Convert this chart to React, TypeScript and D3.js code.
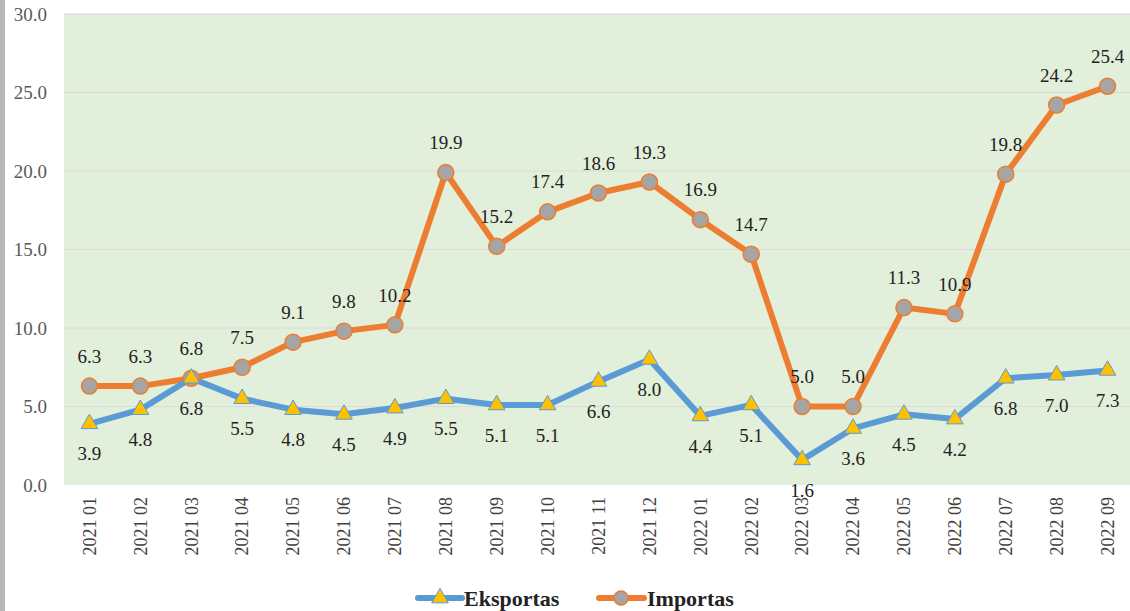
import React from "react";
import * as d3 from "d3";

const categories = ["2021 01","2021 02","2021 03","2021 04","2021 05","2021 06","2021 07","2021 08","2021 09","2021 10","2021 11","2021 12","2022 01","2022 02","2022 03","2022 04","2022 05","2022 06","2022 07","2022 08","2022 09"];
const eksportas = [3.9,4.8,6.8,5.5,4.8,4.5,4.9,5.5,5.1,5.1,6.6,8.0,4.4,5.1,1.6,3.6,4.5,4.2,6.8,7.0,7.3];
const importas = [6.3,6.3,6.8,7.5,9.1,9.8,10.2,19.9,15.2,17.4,18.6,19.3,16.9,14.7,5.0,5.0,11.3,10.9,19.8,24.2,25.4];
const yTicks = [0,5,10,15,20,25,30];

const W = 1130, H = 611;
const left = 64, right = 1133, top = 14, bottom = 485;
const FF = "Liberation Serif";

export default function App() {
  const x = d3.scaleBand<string>().domain(categories).range([left, right]);
  const y = d3.scaleLinear().domain([0, 30]).range([bottom, top]);
  const cx = (c: string) => (x(c) as number) + x.bandwidth() / 2;
  const line = d3.line<number>().x((_, i) => cx(categories[i])).y(d => y(d));
  const tri = d3.symbol().type(d3.symbolTriangle).size(120)() as string;

  return (
    <svg width={W} height={H} fontFamily={FF} style={{ position: "absolute", left: 0, top: 0, background: "#fff" }}>
      <rect x={0} y={0} width={5} height={H} fill="#b8b8b8" />
      <rect x={left} y={top} width={W - left} height={bottom - top} fill="#E2EFDA" />
      {yTicks.map(t => (
        <g key={t}>
          {t > 0 && <line x1={left} x2={W} y1={y(t)} y2={y(t)} stroke="#dadada" strokeWidth={1} />}
          <text x={47} y={y(t)} dy="0.35em" textAnchor="end" fontFamily={FF} fontSize={19} fill="#595959">{t.toFixed(1)}</text>
        </g>
      ))}
      {categories.map(c => (
        <text key={c} transform={`translate(${cx(c)},${bottom + 12}) rotate(-90)`} textAnchor="end" dy="0.35em" fontFamily={FF} fontSize={18} fill="#404040">{c}</text>
      ))}
      <path d={line(importas) as string} fill="none" stroke="#ED7D31" strokeWidth={6} strokeLinejoin="round" />
      <path d={line(eksportas) as string} fill="none" stroke="#5B9BD5" strokeWidth={6} strokeLinejoin="round" />
      {importas.map((v, i) => (
        <circle key={"ic" + i} cx={cx(categories[i])} cy={y(v)} r={8} fill="#A5A5A5" stroke="#ED7D31" strokeWidth={1.5} />
      ))}
      {eksportas.map((v, i) => (
        <path key={"et" + i} d={tri} transform={`translate(${cx(categories[i])},${y(v)})`} fill="#FFC000" stroke="#5B9BD5" strokeWidth={1} />
      ))}
      {importas.map((v, i) => (
        <text key={"il" + i} x={cx(categories[i])} y={y(v) - 30} dy="0.35em" textAnchor="middle" fontFamily={FF} fontSize={19} fill="#222">{v.toFixed(1)}</text>
      ))}
      {eksportas.map((v, i) => (
        <text key={"el" + i} x={cx(categories[i])} y={y(v) + 30} dy="0.35em" textAnchor="middle" fontFamily={FF} fontSize={19} fill="#222">{v.toFixed(1)}</text>
      ))}
      <g>
        <line x1={418} x2={462} y1={598} y2={598} stroke="#5B9BD5" strokeWidth={6} strokeLinecap="round" />
        <path d={tri} transform="translate(440,598)" fill="#FFC000" stroke="#5B9BD5" strokeWidth={1} />
        <text x={464} y={598} dy="0.35em" fontFamily={FF} fontSize={22} fontWeight="bold" fill="#222">Eksportas</text>
        <line x1={599} x2={644} y1={598} y2={598} stroke="#ED7D31" strokeWidth={6} strokeLinecap="round" />
        <circle cx={621} cy={598} r={7} fill="#A5A5A5" stroke="#ED7D31" strokeWidth={1.5} />
        <text x={647} y={598} dy="0.35em" fontFamily={FF} fontSize={22} fontWeight="bold" fill="#222">Importas</text>
      </g>
    </svg>
  );
}
